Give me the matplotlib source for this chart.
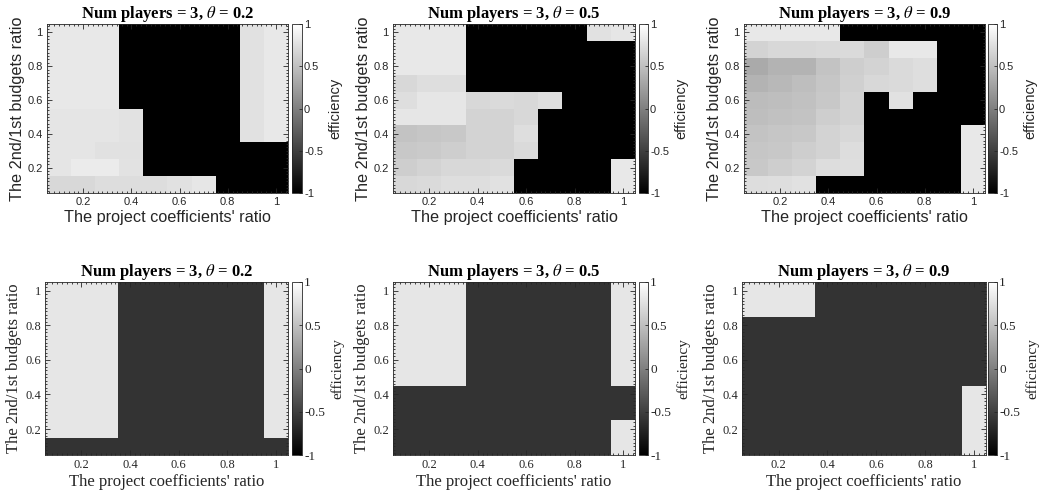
import matplotlib
import matplotlib.pyplot as plt
from matplotlib.ticker import MultipleLocator
import numpy as np

matplotlib.use('Agg')
plt.rcParams['mathtext.fontset'] = 'stix'

W, H = 1055, 495
SANS = 'Liberation Sans'
SERIF = 'Liberation Serif'
AX_GRAY = '#262626'

ratios = [0.1, 0.2, 0.3, 0.4, 0.5, 0.6, 0.7, 0.8, 0.9, 1.0]
thetas = [0.2, 0.5, 0.9]
num_players = 3

# efficiency grids, rows go from budget ratio 0.1 (bottom) up to 1.0 (top),
# columns from project coefficient ratio 0.1 to 1.0
eff_t02 = [
    [0.69, 0.69, 0.73, 0.73, 0.73, 0.76, 0.80, -1, -1, -1],
    [0.79, 0.84, 0.84, 0.77, -1, -1, -1, -1, -1, -1],
    [0.79, 0.79, 0.76, 0.76, -1, -1, -1, -1, -1, -1],
    [0.79, 0.79, 0.79, 0.77, -1, -1, -1, -1, 0.76, 0.82],
    [0.79, 0.79, 0.79, 0.77, -1, -1, -1, -1, 0.76, 0.82],
    [0.82, 0.82, 0.82, -1, -1, -1, -1, -1, 0.76, 0.82],
    [0.82, 0.82, 0.82, -1, -1, -1, -1, -1, 0.76, 0.82],
    [0.82, 0.82, 0.82, -1, -1, -1, -1, -1, 0.76, 0.82],
    [0.82, 0.82, 0.82, -1, -1, -1, -1, -1, 0.76, 0.82],
    [0.82, 0.82, 0.82, -1, -1, -1, -1, -1, 0.76, 0.82],
]
eff_t05 = [
    [0.69, 0.71, 0.74, 0.74, 0.76, -1, -1, -1, -1, 0.82],
    [0.61, 0.65, 0.69, 0.69, 0.71, -1, -1, -1, -1, 0.82],
    [0.57, 0.58, 0.61, 0.65, 0.66, 0.71, -1, -1, -1, -1],
    [0.53, 0.55, 0.57, 0.66, 0.65, 0.74, -1, -1, -1, -1],
    [0.80, 0.80, 0.80, 0.66, 0.65, 0.69, -1, -1, -1, -1],
    [0.74, 0.80, 0.80, 0.69, 0.71, 0.69, 0.74, -1, -1, -1],
    [0.69, 0.74, 0.74, -1, -1, -1, -1, -1, -1, -1],
    [0.82, 0.82, 0.82, -1, -1, -1, -1, -1, -1, -1],
    [0.82, 0.82, 0.82, -1, -1, -1, -1, -1, -1, -1],
    [0.82, 0.82, 0.82, -1, -1, -1, -1, -1, 0.76, 0.80],
]
eff_t09 = [
    [0.73, 0.74, 0.76, -1, -1, -1, -1, -1, -1, 0.82],
    [0.57, 0.61, 0.65, 0.73, 0.74, -1, -1, -1, -1, 0.82],
    [0.55, 0.57, 0.61, 0.65, 0.73, -1, -1, -1, -1, 0.82],
    [0.53, 0.55, 0.57, 0.65, 0.69, -1, -1, -1, -1, 0.82],
    [0.49, 0.51, 0.53, 0.61, 0.66, -1, -1, -1, -1, -1],
    [0.47, 0.49, 0.51, 0.57, 0.66, -1, 0.76, -1, -1, -1],
    [0.41, 0.44, 0.49, 0.55, 0.63, 0.69, 0.71, 0.74, -1, -1],
    [0.33, 0.40, 0.41, 0.53, 0.61, 0.66, 0.71, 0.74, -1, -1],
    [0.65, 0.69, 0.69, 0.71, 0.71, 0.61, 0.82, 0.82, -1, -1],
    [0.82, 0.82, 0.82, 0.82, -1, -1, -1, -1, -1, -1],
]

# second row: two-level outcome
HI, LO = 0.8, -0.6
out_t02 = [
    [LO, LO, LO, LO, LO, LO, LO, LO, LO, LO],
    [HI, HI, HI, LO, LO, LO, LO, LO, LO, HI],
    [HI, HI, HI, LO, LO, LO, LO, LO, LO, HI],
    [HI, HI, HI, LO, LO, LO, LO, LO, LO, HI],
    [HI, HI, HI, LO, LO, LO, LO, LO, LO, HI],
    [HI, HI, HI, LO, LO, LO, LO, LO, LO, HI],
    [HI, HI, HI, LO, LO, LO, LO, LO, LO, HI],
    [HI, HI, HI, LO, LO, LO, LO, LO, LO, HI],
    [HI, HI, HI, LO, LO, LO, LO, LO, LO, HI],
    [HI, HI, HI, LO, LO, LO, LO, LO, LO, HI],
]
out_t05 = [
    [LO, LO, LO, LO, LO, LO, LO, LO, LO, HI],
    [LO, LO, LO, LO, LO, LO, LO, LO, LO, HI],
    [LO, LO, LO, LO, LO, LO, LO, LO, LO, LO],
    [LO, LO, LO, LO, LO, LO, LO, LO, LO, LO],
    [HI, HI, HI, LO, LO, LO, LO, LO, LO, HI],
    [HI, HI, HI, LO, LO, LO, LO, LO, LO, HI],
    [HI, HI, HI, LO, LO, LO, LO, LO, LO, HI],
    [HI, HI, HI, LO, LO, LO, LO, LO, LO, HI],
    [HI, HI, HI, LO, LO, LO, LO, LO, LO, HI],
    [HI, HI, HI, LO, LO, LO, LO, LO, LO, HI],
]
out_t09 = [
    [LO, LO, LO, LO, LO, LO, LO, LO, LO, HI],
    [LO, LO, LO, LO, LO, LO, LO, LO, LO, HI],
    [LO, LO, LO, LO, LO, LO, LO, LO, LO, HI],
    [LO, LO, LO, LO, LO, LO, LO, LO, LO, HI],
    [LO, LO, LO, LO, LO, LO, LO, LO, LO, LO],
    [LO, LO, LO, LO, LO, LO, LO, LO, LO, LO],
    [LO, LO, LO, LO, LO, LO, LO, LO, LO, LO],
    [LO, LO, LO, LO, LO, LO, LO, LO, LO, LO],
    [HI, HI, HI, LO, LO, LO, LO, LO, LO, LO],
    [HI, HI, HI, LO, LO, LO, LO, LO, LO, LO],
]

cbar_ticks = [-1, -0.5, 0, 0.5, 1]
cbar_labels = ['-1', '-0.5', '0', '0.5', '1']
axis_ticks = [0.2, 0.4, 0.6, 0.8, 1.0]
axis_ticklabels = ['0.2', '0.4', '0.6', '0.8', '1']

# pixel boxes (left, right) for heatmap and colorbar
top_boxes = [((47, 288), (292, 302)), ((393, 635), (639, 648)), ((744, 985), (988, 997))]
bot_boxes = [((45, 288), (292, 302)), ((393, 635), (639, 648)), ((742, 986), (988, 997))]
top_y = (24, 193)
bot_y = (282, 455)


def px_axes(fig, xs, ys):
    x0, x1 = xs
    y0, y1 = ys
    return fig.add_axes([x0 / W, 1 - y1 / H, (x1 - x0) / W, (y1 - y0) / H])


def draw_panel(fig, grid, theta, box, ys, font, tick_size, cb_tick_size, label_size, cb_label_size):
    ax = px_axes(fig, box[0], ys)
    cax = px_axes(fig, box[1], ys)
    step = ratios[1] - ratios[0]
    ext = (ratios[0] - step / 2, ratios[-1] + step / 2,
           ratios[0] - step / 2, ratios[-1] + step / 2)
    im = ax.imshow(np.array(grid), origin='lower', extent=ext, aspect='auto',
                   cmap='gray', vmin=-1, vmax=1, interpolation='nearest')
    ax.set_xlim(ext[0], ext[1])
    ax.set_ylim(ext[2], ext[3])
    ax.set_xticks(axis_ticks)
    ax.set_yticks(axis_ticks)
    ax.set_xticklabels(axis_ticklabels, family=font, fontsize=tick_size, color=AX_GRAY)
    ax.set_yticklabels(axis_ticklabels, family=font, fontsize=tick_size, color=AX_GRAY)
    ax.xaxis.set_minor_locator(MultipleLocator(0.02))
    ax.yaxis.set_minor_locator(MultipleLocator(0.02))
    ax.tick_params(which='both', direction='in', top=True, right=True,
                   color=AX_GRAY, width=0.6)
    ax.tick_params(which='major', length=3.5, pad=3)
    ax.tick_params(which='minor', length=1.5)
    for sp in ax.spines.values():
        sp.set_color(AX_GRAY)
        sp.set_linewidth(0.6)
    ax.set_xlabel("The project coefficients' ratio", family=font,
                  fontsize=label_size, color=AX_GRAY, labelpad=2)
    ax.set_ylabel('The 2nd/1st budgets ratio', family=font,
                  fontsize=label_size, color=AX_GRAY, labelpad=2)
    ax.set_title(f'Num players = {num_players}, $\\theta$ = {theta}',
                 family=SERIF, fontweight='bold', fontsize=12, pad=2)

    cb = fig.colorbar(im, cax=cax)
    cb.set_ticks(cbar_ticks)
    cb.set_ticklabels(cbar_labels)
    cb.ax.tick_params(direction='in', length=2.5, width=0.6, color=AX_GRAY,
                      labelsize=cb_tick_size, labelcolor=AX_GRAY, pad=1.5)
    for lbl in cb.ax.get_yticklabels():
        lbl.set_fontfamily(font)
    cb.outline.set_edgecolor(AX_GRAY)
    cb.outline.set_linewidth(0.6)
    cb.set_label('efficiency', fontsize=cb_label_size, color=AX_GRAY, labelpad=4)
    cb.ax.yaxis.label.set_fontfamily(font)


fig = plt.figure(figsize=(W / 100, H / 100), dpi=100)

top_grids = [eff_t02, eff_t05, eff_t09]
bot_grids = [out_t02, out_t05, out_t09]

for grid, theta, box in zip(top_grids, thetas, top_boxes):
    draw_panel(fig, grid, theta, box, top_y, SANS, 8, 8, 11.7, 10.5)

for grid, theta, box in zip(bot_grids, thetas, bot_boxes):
    draw_panel(fig, grid, theta, box, bot_y, SERIF, 9, 9.5, 12, 11)

fig.savefig('out.png', dpi=100)
